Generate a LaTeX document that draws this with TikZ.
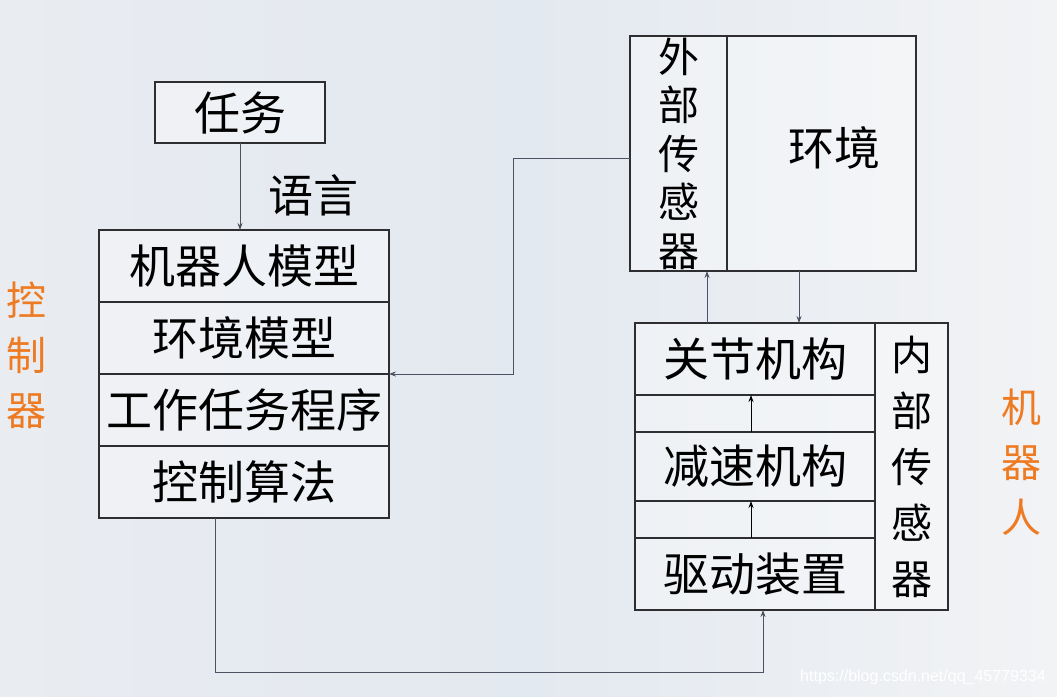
\documentclass[tikz,border=0pt]{standalone}
\usepackage{fontspec}
\setmainfont{Liberation Sans}
\newfontfamily\cjk{Noto Sans CJK SC}
\usetikzlibrary{arrows.meta,positioning,calc}
\definecolor{BoxLine}{HTML}{2E2E30}
\definecolor{LinkGray}{HTML}{4C5262}
\definecolor{TagOrange}{HTML}{EE7A22}
\definecolor{BackLeft}{HTML}{E9ECF1}
\definecolor{BackMid}{HTML}{E3E9F0}
\definecolor{BackRight}{HTML}{F2F3F5}

\begin{document}
\begin{tikzpicture}[x=1pt,y=-1pt,
    cell/.style={draw=BoxLine,line width=1.2pt,fill=white,fill opacity=0.35,text opacity=1,
      inner sep=0pt,outer sep=0pt,font=\cjk\fontsize{46}{50}\selectfont,text=black},
    vcell/.style={cell,align=center,font=\cjk\fontsize{41}{#1}\selectfont},
    link/.style={draw=LinkGray,line width=0.9pt,-{Stealth[length=7pt,width=5pt]}},
    tag/.style={text=TagOrange,align=center,font=\cjk\fontsize{40}{55}\selectfont}]
  % background
  \fill[left color=BackLeft,right color=BackRight,middle color=BackMid] (0,0) rectangle (1057,696);

  % controller side
  \node[cell,minimum width=170pt,minimum height=61pt] (task) at (240,112.5) {任务};
  \node[font=\cjk\fontsize{45}{49}\selectfont] (lang) at (313,195) {语言};
  \node[cell,minimum width=290pt,minimum height=72pt] (rowA) at (244,266) {机器人模型};
  \node[cell,minimum width=290pt,minimum height=72pt,below=0pt of rowA] (rowB) {环境模型};
  \node[cell,minimum width=290pt,minimum height=72pt,below=0pt of rowB] (rowC) {工作任务程序};
  \node[cell,minimum width=290pt,minimum height=72pt,below=0pt of rowC] (rowD) {控制算法};

  % environment
  \node[vcell=48.5,minimum width=97pt,minimum height=235pt] (ext) at (678.5,153.5) {外\\部\\传\\感\\器};
  \node[cell,minimum width=189pt,minimum height=235pt,right=0pt of ext] (env) {\raisebox{15pt}{\hspace{26pt}环境}};

  % robot side
  \node[cell,minimum width=240pt,minimum height=72pt] (joint) at (755,359) {关节机构};
  \node[cell,minimum width=240pt,minimum height=37pt,below=0pt of joint] (gapA) {};
  \node[cell,minimum width=240pt,minimum height=69pt,below=0pt of gapA] (gear) {减速机构};
  \node[cell,minimum width=240pt,minimum height=37pt,below=0pt of gear] (gapB) {};
  \node[cell,minimum width=240pt,minimum height=72pt,below=0pt of gapB] (drive) {驱动装置};
  \node[vcell=56,minimum width=73pt,minimum height=287pt] (inner) at (911.5,466.5) {内\\部\\传\\感\\器};

  % side tags
  \node[tag] (ctrltag) at (26,355) {控\\制\\器};
  \node[tag] (robottag) at (1021,462) {机\\器\\人};

  % connectors
  \coordinate (sensup) at (707,323);
  \coordinate (envdown) at (799,271);
  \coordinate (ctrlout) at (215,518);
  \draw[link] (task.south) -- (task.south |- rowA.north);
  \draw[link] ($(ext.west)+(0,4.5)$) -- ++(-117,0) |- (rowB.south east);
  \draw[link] (sensup) -- (sensup |- ext.south);
  \draw[link] (envdown) -- (envdown |- joint.north);
  \draw[link,draw=black] ($(gapA.south)+(-4,0)$) -- ($(gapA.north)+(-4,0)$);
  \draw[link,draw=black] ($(gapB.south)+(-4,0)$) -- ($(gapB.north)+(-4,0)$);
  \draw[link] (ctrlout) -- ++(0,154) -| ($(drive.south)+(8,0)$);

  % watermark
  \node[text=white,font=\fontsize{16}{18}\selectfont] (mark) at (923,677) {https://blog.csdn.net/qq\_45779334};
\end{tikzpicture}
\end{document}
